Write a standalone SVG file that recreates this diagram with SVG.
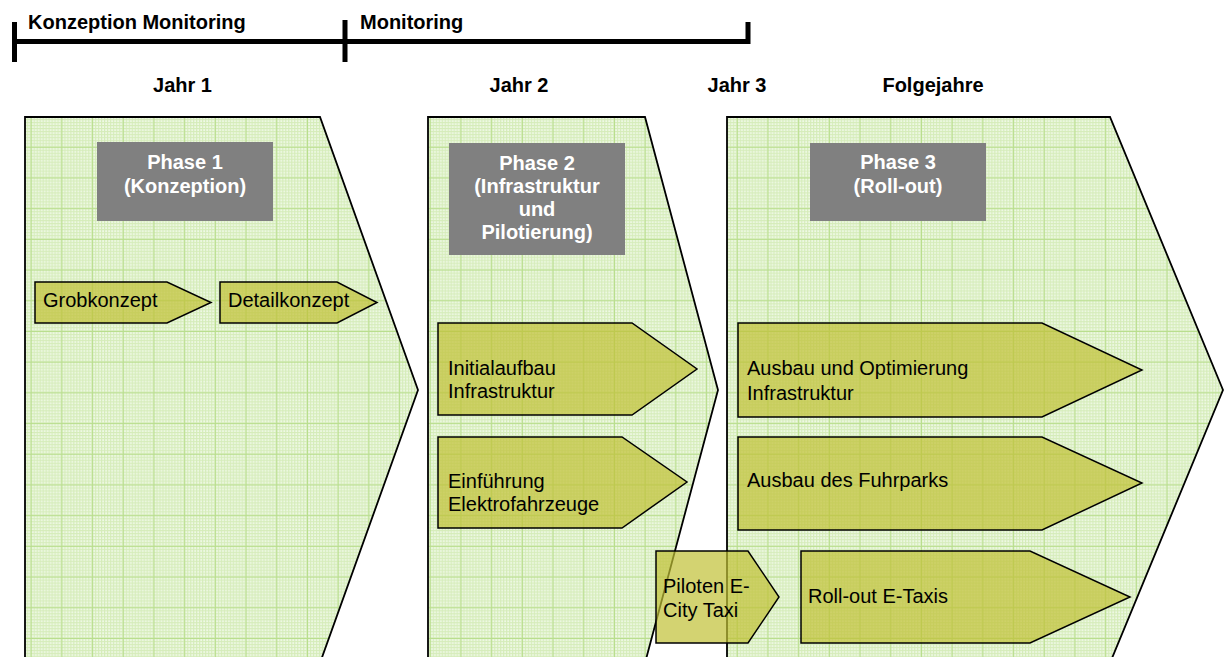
<svg xmlns="http://www.w3.org/2000/svg" width="1224" height="657" viewBox="0 0 1224 657">
<defs>
<pattern id="minor" width="3" height="3" patternUnits="userSpaceOnUse"><rect width="3" height="3" fill="#eff9e6"/><path d="M0 0.5H3M0.5 0V3" stroke="#d5ecb9" stroke-width="1"/></pattern>
<pattern id="grid" width="30.7" height="30.7" patternUnits="userSpaceOnUse" x="0" y="24"><rect width="30.7" height="30.7" fill="url(#minor)"/><path d="M0 0.5H30.7M0.5 0V30.7" stroke="#b9de8e" stroke-width="1"/></pattern>
</defs>
<style>
.phase{fill:url(#grid);stroke:#000;stroke-width:1.8}
.box{fill:#808080}
.boxt{font-family:"Liberation Sans",Arial,sans-serif;font-size:20px;font-weight:bold;fill:#fff;text-anchor:middle}
.chev{fill:#c0c034;fill-opacity:0.7;stroke:#000;stroke-width:1.5}
.ct{font-family:"Liberation Sans",Arial,sans-serif;font-size:20px;fill:#000}
.hdr{font-family:"Liberation Sans",Arial,sans-serif;font-size:20px;font-weight:bold;fill:#000}
.yr{font-family:"Liberation Sans",Arial,sans-serif;font-size:20px;font-weight:bold;fill:#000;text-anchor:middle}
</style>
<rect width="1224" height="657" fill="#fff"/>
<g id="timeline">
<path d="M12 41.5H750" stroke="#000" stroke-width="5" fill="none"/>
<path d="M14.5 22V62M345 20V62M748 22V44" stroke="#000" stroke-width="5" fill="none"/>
<text class="hdr" x="28" y="29">Konzeption Monitoring</text>
<text class="hdr" x="360" y="29">Monitoring</text>
</g>
<g id="years">
<text class="yr" x="182.5" y="92">Jahr 1</text>
<text class="yr" x="519" y="92">Jahr 2</text>
<text class="yr" x="737" y="92">Jahr 3</text>
<text class="yr" x="933" y="92">Folgejahre</text>
</g>
<g id="phase1">
<polygon class="phase" points="25,117 320,117 418,390 320,663 25,663"/>
<rect class="box" x="97" y="142" width="176" height="79"/>
<text class="boxt" x="185" y="169">Phase 1</text>
<text class="boxt" x="185" y="193">(Konzeption)</text>
</g>
<g id="phase2">
<polygon class="phase" points="428,117 645,117 718,390 645,663 428,663"/>
<rect class="box" x="449" y="143" width="176" height="112"/>
<text class="boxt" x="537" y="170">Phase 2</text>
<text class="boxt" x="537" y="193">(Infrastruktur</text>
<text class="boxt" x="537" y="216">und</text>
<text class="boxt" x="537" y="239">Pilotierung)</text>
</g>
<g id="phase3">
<polygon class="phase" points="727,117 1110,117 1223,390 1110,663 727,663"/>
<rect class="box" x="810" y="143" width="176" height="78"/>
<text class="boxt" x="898" y="169">Phase 3</text>
<text class="boxt" x="898" y="193">(Roll-out)</text>
</g>
<g id="grobkonzept">
<polygon class="chev" points="35,282 167,282 211,302.5 167,323 35,323"/>
<text class="ct" x="43" y="307">Grobkonzept</text>
</g>
<g id="detailkonzept">
<polygon class="chev" points="220,282 337,282 377,302.5 337,323 220,323"/>
<text class="ct" x="228" y="307">Detailkonzept</text>
</g>
<g id="initialaufbau">
<polygon class="chev" points="438,323 632,323 697,369 632,415 438,415"/>
<text class="ct" x="448" y="375">Initialaufbau</text>
<text class="ct" x="448" y="398">Infrastruktur</text>
</g>
<g id="einfuehrung">
<polygon class="chev" points="438,437 622,437 687,482 622,528 438,528"/>
<text class="ct" x="448" y="488">Einführung</text>
<text class="ct" x="448" y="511">Elektrofahrzeuge</text>
</g>
<g id="piloten">
<polygon class="chev" points="656,551 748,551 779,597 748,643 656,643"/>
<text class="ct" x="663" y="593">Piloten E-</text>
<text class="ct" x="663" y="617">City Taxi</text>
</g>
<g id="ausbau-infra">
<polygon class="chev" points="738,323 1042,323 1142,370 1042,417 738,417"/>
<text class="ct" x="747" y="375">Ausbau und Optimierung</text>
<text class="ct" x="747" y="400">Infrastruktur</text>
</g>
<g id="ausbau-fuhrpark">
<polygon class="chev" points="738,437 1042,437 1142,483 1042,530 738,530"/>
<text class="ct" x="747" y="487">Ausbau des Fuhrparks</text>
</g>
<g id="rollout">
<polygon class="chev" points="801,551 1030,551 1130,597 1030,643 801,643"/>
<text class="ct" x="808" y="603">Roll-out E-Taxis</text>
</g>
<g id="connectors"/>
</svg>
